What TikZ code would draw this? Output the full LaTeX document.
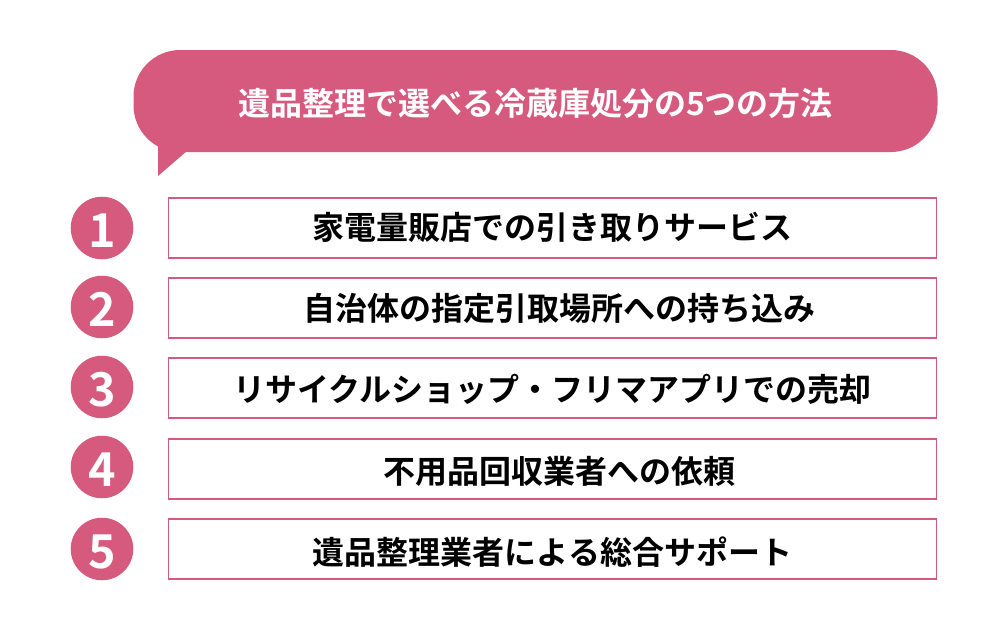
\documentclass[tikz,border=0pt]{standalone}
\usepackage{fontspec}
\setmainfont{Noto Sans CJK JP}[BoldFont={Noto Sans CJK JP Bold}]
\usepackage{tikz}
\definecolor{rosepink}{HTML}{D65A7E}
\tikzset{%
    numdot/.style={circle,fill=rosepink,text=white,minimum size=46.9pt,inner sep=0pt,text height=25.7pt,text depth=0pt,font=\fontsize{35}{35}\selectfont\bfseries},
    itembox/.style={draw=rosepink,line width=1.4pt,fill=white,text=black,minimum width=576pt,minimum height=45pt,inner sep=0pt,text height=18pt,text depth=0pt,font=\fontsize{24}{26}\selectfont\bfseries},
    headbox/.style={fill=rosepink,rounded corners=35pt,text=white,minimum width=603pt,minimum height=76.5pt,inner sep=0pt,text height=18pt,text depth=0pt,font=\fontsize{24}{26}\selectfont\bfseries}
}
\newcommand\ListItem[6]{%
    \node[numdot] (dot#1) at (102,#2) {\raisebox{-1.5pt}{#1}};
    \node[itembox] (item#1) at (552.5,#3) {\hspace*{#5}\raisebox{#4}{#6}}
}
\begin{document}
\begin{tikzpicture}[x=0.75pt,y=-0.75pt]
      \useasboundingbox (0,0) rectangle (1000,625);

      \node[headbox] (head) at (535.5,101) {\raisebox{-1.5pt}{遺品整理で選べる冷蔵庫処分の5つの方法}};
      \coordinate (tailtip) at (158,176);
      \fill[rosepink] (158,140) -- (tailtip) -- (187,151) -- (200,140) -- cycle;

      \ListItem{1}{228}{227.7}{0.5pt}{0pt}{家電量販店での引き取りサービス};
      \ListItem{2}{307}{308}{0pt}{9.75pt}{自治体の指定引取場所への持ち込み};
      \ListItem{3}{387}{388}{-0.75pt}{0pt}{リサイクルショップ・フリマアプリでの売却};
      \ListItem{4}{467}{468.7}{-2.1pt}{9.75pt}{不用品回収業者への依頼};
      \ListItem{5}{549}{549}{-2.25pt}{0pt}{遺品整理業者による総合サポート};
    \end{tikzpicture}
\end{document}
